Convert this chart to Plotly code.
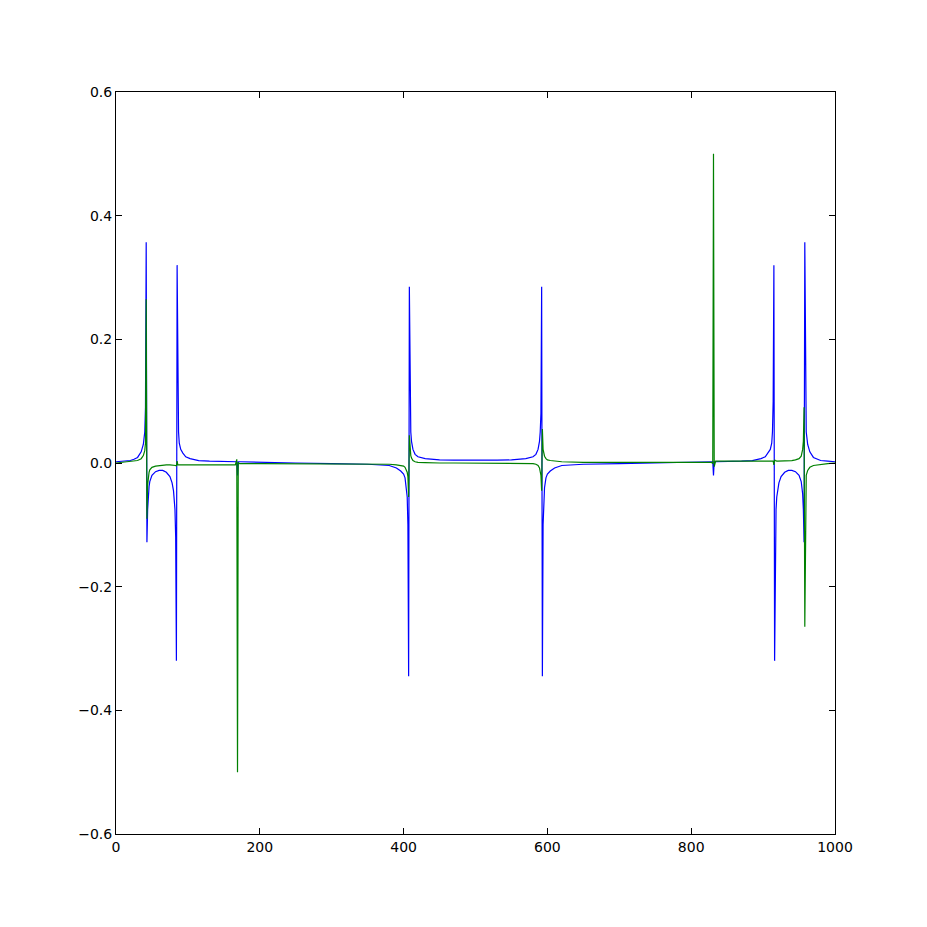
import plotly.graph_objects as go

x_vals = [0, 10, 20, 25, 30, 35, 38, 40, 41, 42, 43, 44, 45, 46, 47, 50, 55, 60, 65, 70, 75, 78, 80, 81, 82, 83, 84,
          85, 86, 87, 88, 90, 93, 97, 103, 115, 130, 150, 160, 166, 168, 169, 170, 172, 200, 250, 300, 350, 380,
          390, 396, 400, 402, 404, 405, 406, 407, 408, 409, 410, 411, 413, 416, 420, 430, 440, 450, 470, 500,
          530, 550, 560, 570, 580, 584, 587, 589, 590, 591, 592, 593, 594, 595, 596, 598, 600, 604, 610, 620,
          650, 700, 750, 800, 828, 830, 831, 832, 834, 840, 850, 870, 885, 897, 903, 907, 910, 912, 913, 914,
          915, 916, 917, 918, 919, 920, 922, 925, 930, 935, 940, 945, 950, 953, 954, 955, 956, 957, 958, 959,
          960, 962, 965, 970, 975, 980, 990, 1000]

blue_vals = [0.002, 0.003, 0.004, 0.006, 0.009, 0.018, 0.03, 0.05, 0.09, 0.357, -0.128, -0.075, -0.05, -0.038,
             -0.03, -0.02, -0.014, -0.012, -0.012, -0.015, -0.022, -0.032, -0.045, -0.055, -0.075, -0.12, -0.32,
             0.32, 0.1, 0.05, 0.032, 0.022, 0.016, 0.01, 0.007, 0.004, 0.003, 0.002, 0.002, 0.002, 0.002, -0.02,
             0.002, 0.002, 0.001, 0.0, -0.001, -0.002, -0.004,
             -0.008, -0.013, -0.018, -0.024, -0.04, -0.055, -0.1, -0.345, 0.285, 0.08, 0.05, 0.035, 0.022, 0.014,
             0.01, 0.007, 0.006, 0.005, 0.0045, 0.004,
             0.0045, 0.005, 0.006, 0.007, 0.01, 0.014, 0.022, 0.035, 0.05, 0.08, 0.285, -0.345, -0.1, -0.055,
             -0.04, -0.024, -0.018, -0.013, -0.008, -0.004,
             -0.002, -0.001, 0.0, 0.001, 0.002, 0.002, -0.02, 0.002, 0.002, 0.002, 0.002, 0.003, 0.004, 0.007,
             0.01, 0.016, 0.022, 0.032, 0.05, 0.1,
             0.32, -0.32, -0.12, -0.075, -0.055, -0.045, -0.032, -0.022, -0.015, -0.012, -0.012, -0.014, -0.02,
             -0.03, -0.038, -0.05, -0.075, -0.128, 0.357, 0.09,
             0.05, 0.03, 0.018, 0.009, 0.006, 0.004, 0.003, 0.002]

green_vals = [0.0, 0.001, 0.002, 0.003, 0.004, 0.007, 0.012, 0.02, 0.032, 0.265, -0.09, -0.035, -0.022, -0.015,
              -0.011, -0.007, -0.005, -0.004, -0.003, -0.003, -0.003, -0.003, -0.003, -0.003, -0.003, -0.004,
              -0.005,
              0.003, -0.003, -0.003, -0.003, -0.003, -0.003, -0.003, -0.003, -0.003, -0.003, -0.003, -0.003,
              -0.003, 0.006, -0.5, 0.001, -0.001, -0.001, -0.001, -0.001, -0.001, -0.002,
              -0.003, -0.004, -0.005, -0.007, -0.011, -0.015, -0.022, -0.055, 0.045, 0.02, 0.012, 0.008, 0.004,
              0.002, 0.001, 0.0005, 0.0, 0.0, 0.0, 0.0,
              0.0, 0.0, 0.0, -0.0005, -0.001, -0.002, -0.004, -0.008, -0.012, -0.02, -0.045, 0.055, 0.022, 0.015,
              0.011, 0.007, 0.005, 0.004, 0.003, 0.002,
              0.001, 0.001, 0.001, 0.001, 0.001, -0.001, 0.5, -0.006, 0.003, 0.003, 0.003, 0.003, 0.003, 0.003,
              0.003, 0.003, 0.003, 0.003, 0.003, 0.003,
              -0.003, 0.005, 0.004, 0.003, 0.003, 0.003, 0.003, 0.003, 0.003, 0.003, 0.004, 0.005, 0.007, 0.011,
              0.015, 0.022, 0.035, 0.09, -0.265, -0.032,
              -0.02, -0.012, -0.007, -0.004, -0.003, -0.002, -0.001, 0.0]

x_ticks = [0, 200, 400, 600, 800, 1000]
x_tick_labels = ["0", "200", "400", "600", "800", "1000"]
y_ticks = [-0.6, -0.4, -0.2, 0.0, 0.2, 0.4, 0.6]
y_tick_labels = ["\u22120.6", "\u22120.4", "\u22120.2", "0.0", "0.2", "0.4", "0.6"]

fig = go.Figure()
fig.add_trace(go.Scatter(x=x_vals, y=blue_vals, mode="lines",
                         line=dict(color="#0000ff", width=1.2), showlegend=False))
fig.add_trace(go.Scatter(x=x_vals, y=green_vals, mode="lines",
                         line=dict(color="#008000", width=1.2), showlegend=False))

axis_common = dict(showgrid=False, zeroline=False, showline=True, linecolor="black", linewidth=1,
                   mirror="ticks", ticks="inside", ticklen=6, tickcolor="black", tickwidth=1,
                   tickfont=dict(family="DejaVu Sans", size=14, color="black"))

fig.update_layout(
    width=919, height=919,
    margin=dict(l=108, r=92, t=84, b=93),
    paper_bgcolor="white", plot_bgcolor="white",
    xaxis=dict(range=[0, 1000], tickvals=x_ticks, ticktext=x_tick_labels, **axis_common),
    yaxis=dict(range=[-0.6, 0.6], tickvals=y_ticks, ticktext=y_tick_labels, **axis_common),
)

fig.write_html("out.html")
